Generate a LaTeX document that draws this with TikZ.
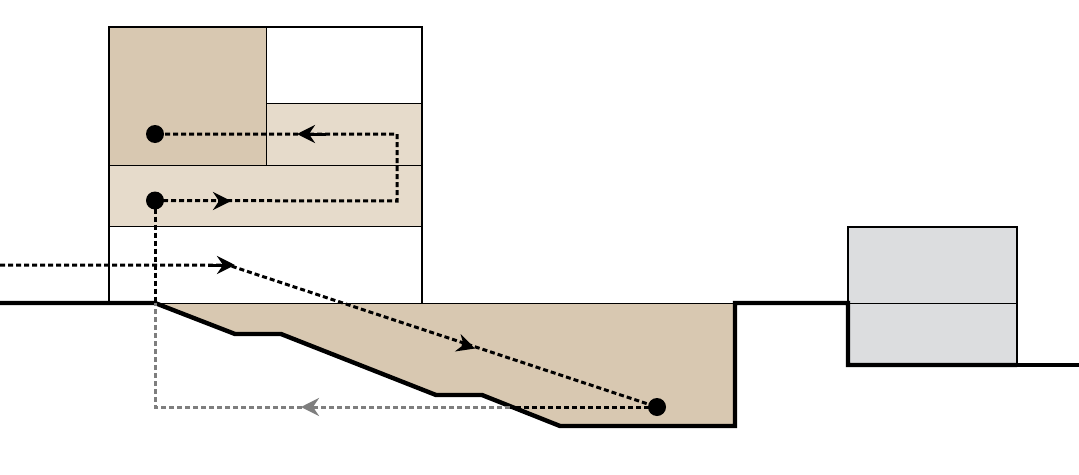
\documentclass[tikz,border=0pt]{standalone}
\usetikzlibrary{arrows.meta}
\definecolor{tan}{HTML}{D8C8B1}
\definecolor{lighttan}{HTML}{E6DBCB}
\definecolor{panel}{HTML}{DCDDDF}
\definecolor{flowgrey}{HTML}{7E7E7E}
\tikzset{
  wall/.style={draw=black,line width=2.1pt,line join=miter},
  thin wall/.style={draw=black,line width=0.9pt},
  ground/.style={draw=black,line width=4.4pt,line join=miter},
  flow/.style={draw=black,line width=3pt,dash pattern=on 5pt off 3pt},
  grey flow/.style={flow,draw=flowgrey},
  head/.style={draw=black,line width=3pt,-{Stealth[length=18pt,width=18pt,inset=6pt]}},
  grey head/.style={head,draw=flowgrey},
  spot/.style={circle,fill=black,inner sep=0pt,minimum size=18pt},
}
\begin{document}
\begin{tikzpicture}[x=1pt,y=-1pt]
\useasboundingbox (0,0) rectangle (1079,474);
% fills
\fill[tan] (109,27) rectangle (266,165);
\fill[lighttan] (266,103) rectangle (422,165);
\fill[lighttan] (109,165) rectangle (422,226);
\fill[tan] (155,303) -- (235,334) -- (281,334) -- (436,395) -- (482,395) -- (560,426) -- (735,426) -- (735,303) -- cycle;
\fill[panel] (848,227) rectangle (1017,365);
% left building
\draw[thin wall] (109,165) -- (422,165);
\draw[thin wall] (109,226) -- (422,226);
\draw[thin wall] (266,103) -- (422,103);
\draw[thin wall] (266,27) -- (266,165);
\draw[wall] (109,303) -- (109,27) -- (422,27) -- (422,303);
\draw[thin wall] (155,303) -- (735,303);
% right building
\draw[thin wall] (848,303) -- (1017,303);
\draw[wall] (848,303) -- (848,227) -- (1017,227) -- (1017,365);
% ground
\draw[ground] (0,303) -- (155,303) -- (235,334) -- (281,334) -- (436,395) -- (482,395) -- (560,426) -- (735,426) -- (735,303) -- (848,303) -- (848,365) -- (1017,365);
\draw[draw=black,line width=3.4pt] (1017,365) -- (1079,365);
% stations
\node[spot] (s1) at (155,134) {};
\node[spot] (s2) at (155,200.5) {};
\node[spot] (s3) at (657,407) {};
\coordinate (entry) at (0,265);
\coordinate (bend) at (228,265);
\coordinate (tr) at (397,134);
\coordinate (br) at (397,201);
\coordinate (gnd) at (155,303);
\coordinate (corner) at (155,407);
\coordinate (cross) at (510,407);
% flows
\draw[flow] (entry) -- (bend) -- (s3.center);
\draw[flow] (s2.center) -- (br) -- (tr) -- (s1.center);
\draw[flow] (s2.center) -- (gnd);
\draw[grey flow] (cross) -- (corner) -- (gnd);
\draw[flow] (s3.center) -- (cross);
% arrowheads
\coordinate (h1a) at (326,134); \coordinate (h1b) at (297,134);
\coordinate (h2a) at (218,201); \coordinate (h2b) at (231,201);
\coordinate (h3a) at (208,265); \coordinate (h3b) at (235,265);
\coordinate (h4a) at (462,344.2); \coordinate (h4b) at (475,348.5);
\coordinate (h5a) at (314,407); \coordinate (h5b) at (301,407);
\draw[head] (h1a) -- (h1b);
\draw[head] (h2a) -- (h2b);
\draw[head] (h3a) -- (h3b);
\draw[head] (h4a) -- (h4b);
\draw[grey head] (h5a) -- (h5b);
\end{tikzpicture}
\end{document}
